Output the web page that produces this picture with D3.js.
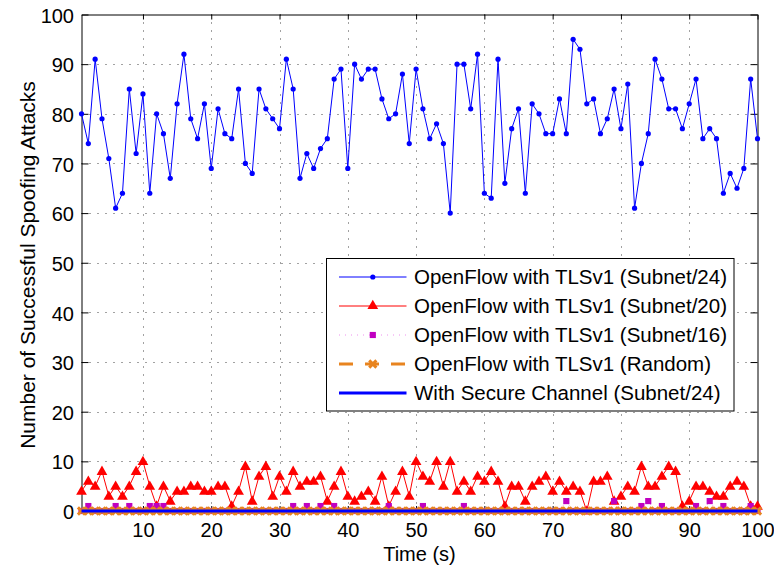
<!DOCTYPE html>
<html>
<head>
<meta charset="utf-8">
<script src="https://cdn.jsdelivr.net/npm/d3@7"></script>
<style>
  body { margin: 0; background: #fff; }
  svg { display: block; }
  text { font-family: "Liberation Sans", Arial, sans-serif; fill: #000; }
</style>
</head>
<body>
<script>
// time axis: one sample per second
const time = d3.range(1, 101);

const subnet24 = [
  80, 74, 91, 79, 71, 61, 64, 85, 72, 84,
  64, 80, 76, 67, 82, 92, 79, 75, 82, 69,
  81, 76, 75, 85, 70, 68, 85, 81, 79, 77,
  91, 85, 67, 72, 69, 73, 75, 87, 89, 69,
  90, 87, 89, 89, 83, 79, 80, 88, 74, 89,
  81, 75, 78, 74, 60, 90, 90, 81, 92, 64,
  63, 91, 66, 77, 81, 64, 82, 80, 76, 76,
  83, 76, 95, 93, 82, 83, 76, 79, 85, 77,
  86, 61, 70, 76, 91, 87, 81, 81, 77, 82,
  87, 75, 77, 75, 64, 68, 65, 69, 87, 75
];

const subnet20 = [
  4, 6, 5, 8, 3, 5, 3, 5, 8, 10,
  5, 1, 5, 2, 4, 4, 5, 5, 4, 4,
  5, 5, 1, 4, 9, 2, 7, 9, 3, 7,
  4, 8, 5, 6, 6, 7, 2, 5, 8, 3,
  2, 3, 4, 2, 7, 1, 4, 8, 3, 10,
  7, 6, 10, 5, 10, 4, 6, 4, 7, 6,
  8, 6, 1, 5, 5, 2, 5, 6, 7, 4,
  6, 4, 5, 4, 0, 6, 6, 7, 2, 3,
  5, 4, 9, 5, 5, 7, 9, 8, 1, 2,
  5, 5, 4, 3, 3, 5, 6, 5, 1, 1
];

const subnet16 = [
  0, 1, 0, 0, 0, 1, 0, 1, 0, 0,
  1, 1, 1, 0, 0, 0, 0, 0, 0, 0,
  0, 0, 0, 0, 0, 0, 0, 0, 0, 0,
  0, 1, 0, 1, 0, 1, 0, 1, 0, 0,
  0, 0, 0, 0, 0, 1, 0, 0, 0, 0,
  1, 0, 0, 0, 0, 0, 1, 0, 0, 0,
  0, 0, 0, 0, 0, 0, 0, 0, 0, 0,
  0, 2, 0, 0, 0, 0, 0, 0, 2, 0,
  0, 0, 1, 2, 0, 1, 0, 0, 0, 0,
  1, 0, 2, 0, 1, 0, 0, 0, 1, 0
];

const randomNet = [
  0, 0, 0, 0, 0, 0, 0, 0, 0, 0,
  0, 0, 0, 0, 0, 0, 0, 0, 0, 0,
  0, 0, 0, 0, 0, 0, 0, 0, 0, 0,
  0, 0, 0, 0, 0, 0, 0, 0, 0, 0,
  0, 0, 0, 0, 0, 0, 0, 0, 0, 0,
  0, 0, 0, 0, 0, 0, 0, 0, 0, 0,
  0, 0, 0, 0, 0, 0, 0, 0, 0, 0,
  0, 0, 0, 0, 0, 0, 0, 0, 0, 0,
  0, 0, 0, 0, 0, 0, 0, 0, 0, 0,
  0, 0, 0, 0, 0, 0, 0, 0, 0, 0
];

const secureChannel = [
  0, 0, 0, 0, 0, 0, 0, 0, 0, 0,
  0, 0, 0, 0, 0, 0, 0, 0, 0, 0,
  0, 0, 0, 0, 0, 0, 0, 0, 0, 0,
  0, 0, 0, 0, 0, 0, 0, 0, 0, 0,
  0, 0, 0, 0, 0, 0, 0, 0, 0, 0,
  0, 0, 0, 0, 0, 0, 0, 0, 0, 0,
  0, 0, 0, 0, 0, 0, 0, 0, 0, 0,
  0, 0, 0, 0, 0, 0, 0, 0, 0, 0,
  0, 0, 0, 0, 0, 0, 0, 0, 0, 0,
  0, 0, 0, 0, 0, 0, 0, 0, 0, 0
];

const xTicks = [10, 20, 30, 40, 50, 60, 70, 80, 90, 100];
const yTicks = [0, 10, 20, 30, 40, 50, 60, 70, 80, 90, 100];
const legendLabels = [
  'OpenFlow with TLSv1 (Subnet/24)',
  'OpenFlow with TLSv1 (Subnet/20)',
  'OpenFlow with TLSv1 (Subnet/16)',
  'OpenFlow with TLSv1 (Random)',
  'With Secure Channel (Subnet/24)'
];

const width = 774, height = 569;
const plotLeft = 81.5, plotRight = 757.5, plotTop = 14.5, plotBottom = 511;

const x = d3.scaleLinear().domain([1, 100]).range([plotLeft, plotRight]);
const y = d3.scaleLinear().domain([0, 100]).range([plotBottom, plotTop]);

const svg = d3.select('body').append('svg')
  .attr('width', width)
  .attr('height', height);

// dotted grid
const grid = svg.append('g')
  .attr('stroke', '#444')
  .attr('stroke-width', 1)
  .attr('stroke-dasharray', '1,7');

grid.selectAll('.gx')
  .data(xTicks.filter(d => d < 100))
  .enter().append('line')
  .attr('x1', d => Math.round(x(d)) + 0.5)
  .attr('x2', d => Math.round(x(d)) + 0.5)
  .attr('y1', plotTop)
  .attr('y2', plotBottom);

grid.selectAll('.gy')
  .data(yTicks.filter(d => d > 0 && d < 100))
  .enter().append('line')
  .attr('y1', d => Math.round(y(d)) + 0.5)
  .attr('y2', d => Math.round(y(d)) + 0.5)
  .attr('x1', plotLeft)
  .attr('x2', plotRight);

// axes, ticks pointing inward on all four sides
const axisStyle = g => {
  g.selectAll('.domain').attr('stroke', '#000').attr('stroke-width', 1);
  g.selectAll('.tick line').attr('stroke', '#000');
  g.selectAll('text').attr('font-size', 20).attr('fill', '#000')
    .style('font-family', '"Liberation Sans", Arial, sans-serif');
};

svg.append('g')
  .attr('transform', `translate(0,${plotBottom})`)
  .call(d3.axisBottom(x).tickValues(xTicks).tickSize(-5).tickSizeOuter(0).tickPadding(11.5))
  .call(axisStyle);

svg.append('g')
  .attr('transform', `translate(${plotLeft},0)`)
  .call(d3.axisLeft(y).tickValues(yTicks).tickSize(-7).tickSizeOuter(0).tickPadding(7.5))
  .call(axisStyle)
  .selectAll('text').attr('dy', '0.38em');

svg.append('g')
  .attr('transform', `translate(0,${plotTop})`)
  .call(d3.axisTop(x).tickValues(xTicks).tickSize(-5).tickSizeOuter(0).tickFormat(''))
  .call(axisStyle);

svg.append('g')
  .attr('transform', `translate(${plotRight},0)`)
  .call(d3.axisRight(y).tickValues(yTicks).tickSize(-7).tickSizeOuter(0).tickFormat(''))
  .call(axisStyle);

// axis titles
svg.append('text')
  .attr('x', (plotLeft + plotRight) / 2)
  .attr('y', 560.5)
  .attr('text-anchor', 'middle')
  .attr('font-size', 20)
  .text('Time (s)');

svg.append('text')
  .attr('transform', `translate(35,265) rotate(-90)`)
  .attr('text-anchor', 'middle')
  .attr('font-size', 21)
  .text('Number of Successful Spoofing Attacks');

// series
const line = d3.line()
  .x(d => x(d[0]))
  .y(d => y(d[1]));

const pts = vals => time.map((t, i) => [t, vals[i]]);

const colors = {
  s24: '#0000ff',
  s20: '#ff0000',
  s16: '#c000c0',
  s16line: '#ee90ee',
  rnd: '#e8841f',
  sec: '#0000ff'
};

const triangle = d3.symbol().type(d3.symbolTriangle).size(50);
const square = d3.symbol().type(d3.symbolSquare).size(38);
const cross = 'M-3.6,-3.6L3.6,3.6M-3.6,3.6L3.6,-3.6';

// Subnet/24
svg.append('path')
  .attr('d', line(pts(subnet24)))
  .attr('fill', 'none')
  .attr('stroke', colors.s24)
  .attr('stroke-width', 1);
svg.append('g').selectAll('circle')
  .data(pts(subnet24))
  .enter().append('circle')
  .attr('cx', d => x(d[0]))
  .attr('cy', d => y(d[1]))
  .attr('r', 2.6)
  .attr('fill', colors.s24);

// Subnet/20
svg.append('path')
  .attr('d', line(pts(subnet20)))
  .attr('fill', 'none')
  .attr('stroke', colors.s20)
  .attr('stroke-width', 1);
svg.append('g').selectAll('path')
  .data(pts(subnet20))
  .enter().append('path')
  .attr('d', triangle)
  .attr('transform', d => `translate(${x(d[0])},${y(d[1]) + 0.5})`)
  .attr('fill', colors.s20);

// Subnet/16
svg.append('path')
  .attr('d', line(pts(subnet16)))
  .attr('fill', 'none')
  .attr('stroke', colors.s16line)
  .attr('stroke-width', 1)
  .attr('stroke-dasharray', '1,4');
svg.append('g').selectAll('path')
  .data(pts(subnet16))
  .enter().append('path')
  .attr('d', square)
  .attr('transform', d => `translate(${x(d[0])},${y(d[1])})`)
  .attr('fill', colors.s16);

// Random
svg.append('path')
  .attr('d', line(pts(randomNet)))
  .attr('fill', 'none')
  .attr('stroke', colors.rnd)
  .attr('stroke-width', 3)
  .attr('stroke-dasharray', '14,12');
svg.append('g').selectAll('path')
  .data(pts(randomNet))
  .enter().append('path')
  .attr('d', cross)
  .attr('transform', d => `translate(${x(d[0])},${y(d[1])})`)
  .attr('fill', 'none')
  .attr('stroke', colors.rnd)
  .attr('stroke-width', 3);

// Secure channel
svg.append('path')
  .attr('d', line(pts(secureChannel)))
  .attr('fill', 'none')
  .attr('stroke', colors.sec)
  .attr('stroke-width', 3);

// legend
const lg = svg.append('g');
lg.append('rect')
  .attr('x', 326.5)
  .attr('y', 258.5)
  .attr('width', 407.5)
  .attr('height', 152.5)
  .attr('fill', '#fff')
  .attr('stroke', '#000')
  .attr('stroke-width', 1);

const rowY = i => 277 + i * 29;
const lx1 = 339, lx2 = 406.5, lmid = 372.8;

legendLabels.forEach((label, i) => {
  lg.append('text')
    .attr('x', 414)
    .attr('y', rowY(i) + 7.3)
    .attr('font-size', 20.5)
    .text(label);
});

lg.append('line').attr('x1', lx1).attr('x2', lx2).attr('y1', rowY(0)).attr('y2', rowY(0))
  .attr('stroke', colors.s24).attr('stroke-width', 1);
lg.append('circle').attr('cx', lmid).attr('cy', rowY(0)).attr('r', 2.6).attr('fill', colors.s24);

lg.append('line').attr('x1', lx1).attr('x2', lx2).attr('y1', rowY(1)).attr('y2', rowY(1))
  .attr('stroke', colors.s20).attr('stroke-width', 1);
lg.append('path').attr('d', triangle).attr('transform', `translate(${lmid},${rowY(1)})`)
  .attr('fill', colors.s20);

lg.append('line').attr('x1', lx1).attr('x2', lx2).attr('y1', rowY(2)).attr('y2', rowY(2))
  .attr('stroke', colors.s16line).attr('stroke-width', 1).attr('stroke-dasharray', '1,5');
lg.append('path').attr('d', square).attr('transform', `translate(${lmid},${rowY(2)})`)
  .attr('fill', colors.s16);

lg.append('line').attr('x1', lx1).attr('x2', lx2).attr('y1', rowY(3)).attr('y2', rowY(3))
  .attr('stroke', colors.rnd).attr('stroke-width', 3).attr('stroke-dasharray', '14,12');
lg.append('path').attr('d', cross).attr('transform', `translate(${lmid},${rowY(3)})`)
  .attr('fill', 'none').attr('stroke', colors.rnd).attr('stroke-width', 3);

lg.append('line').attr('x1', lx1).attr('x2', lx2).attr('y1', rowY(4)).attr('y2', rowY(4))
  .attr('stroke', colors.sec).attr('stroke-width', 3);
</script>
</body>
</html>
